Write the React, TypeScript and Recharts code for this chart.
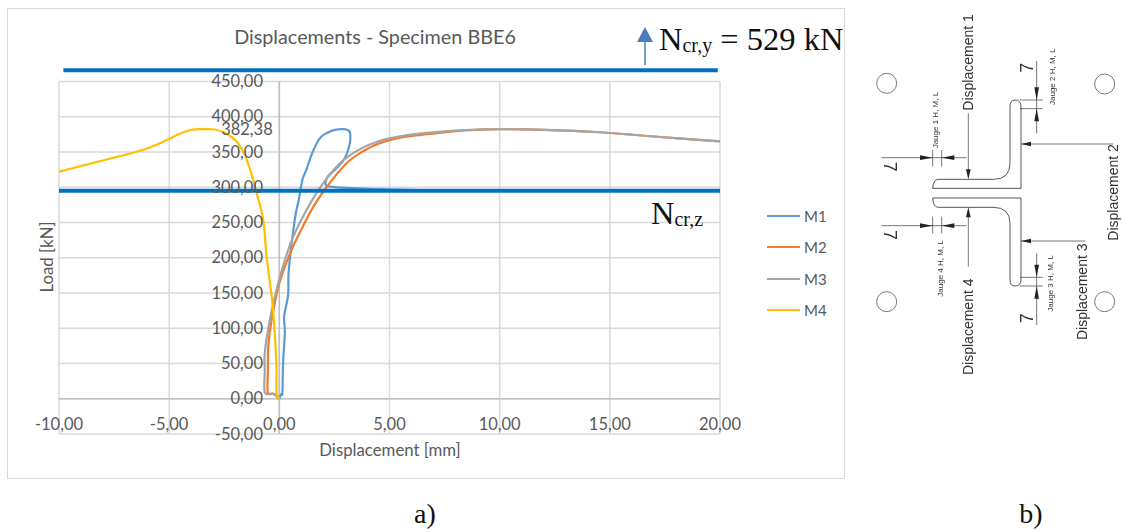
import { CartesianGrid, Legend, Line, LineChart, ReferenceDot, ReferenceLine, XAxis, YAxis } from "recharts"

const xTicks = [-10, -5, 0, 5, 10, 15, 20]
const yTicks = [-50, 0, 50, 100, 150, 200, 250, 300, 350, 400, 450]

const m1X = [0, 0.07, 0.14, 0.17, 0.25, 0.22, 0.4, 0.43, 0.7, 0.88, 1.05, 1.23, 1.46, 1.66, 1.91, 2.37, 2.82, 3.12, 3.21, 3.2, 2.97, 2.6, 2.2, 2.1, 2.3, 3.05, 4.25, 6.8]
const m1Y = [0, 6, 9, 51, 94, 117, 148, 183, 254, 282, 311, 325, 346, 360, 372, 380, 382.4, 381, 377, 362.5, 341, 327, 315, 303.5, 301, 299, 297.5, 295.5]

const m2X = [0, -0.25, -0.52, -0.52, -0.5, -0.35, 0, 0.55, 1.0, 1.5, 2.14, 3.05, 3.8, 4.56, 5.62, 6.83, 8.4, 10, 12, 14.55, 17, 20]
const m2Y = [0, 7, 9, 40, 75, 112, 164, 211, 240, 270, 300, 334, 351, 362.6, 371, 375.5, 380.5, 382.4, 381.5, 378, 372, 365]

const m3X = [0, -0.3, -0.66, -0.66, -0.66, -0.43, -0.05, 0.48, 1.0, 1.84, 2.75, 3.6, 4.56, 5.62, 6.83, 8.4, 10, 12, 14.55, 17, 20]
const m3Y = [0, 7, 9, 40, 65, 112, 164, 218, 254, 299, 334, 353, 366, 373, 377.5, 381, 382.4, 381.5, 378, 372, 365]

const m4X = [0, -0.13, -0.13, -0.2, -0.33, -0.58, -0.73, -1.03, -1.26, -1.57, -1.94, -2.4, -2.93, -3.47, -3.98, -4.52, -5.12, -5.88, -6.64, -10]
const m4Y = [0, 9, 42, 89, 141, 202, 254, 292, 318, 346, 365, 376, 381.9, 382.4, 381.5, 375.9, 367, 356.5, 349, 322]

const zip = (xs: number[], ys: number[]) => xs.map((x, i) => ({ x, y: ys[i] }))
const fmt = (v: number) => v.toFixed(2).replace(".", ",")

const grey = "#595959"
const sans = "Lato, sans-serif"
const serif = "'Liberation Serif', serif"

const series = [
  { name: "M1", color: "#5B9BD5", data: zip(m1X, m1Y) },
  { name: "M2", color: "#ED7D31", data: zip(m2X, m2Y) },
  { name: "M3", color: "#A5A5A5", data: zip(m3X, m3Y) },
  { name: "M4", color: "#FFC000", data: zip(m4X, m4Y) },
]

// Excel-style smoothed line, the curves loop back so monotone can't be used
function smoothCurve(ctx: any) {
  let pts: number[][] = []
  return {
    areaStart() {},
    areaEnd() {},
    lineStart() {
      pts = []
    },
    point(x: number, y: number) {
      pts.push([+x, +y])
    },
    lineEnd() {
      if (!pts.length) return
      ctx.moveTo(pts[0][0], pts[0][1])
      for (let i = 0; i < pts.length - 1; i++) {
        const p0 = pts[Math.max(i - 1, 0)]
        const p1 = pts[i]
        const p2 = pts[i + 1]
        const p3 = pts[Math.min(i + 2, pts.length - 1)]
        ctx.bezierCurveTo(
          p1[0] + (p2[0] - p0[0]) / 6,
          p1[1] + (p2[1] - p0[1]) / 6,
          p2[0] - (p3[0] - p1[0]) / 6,
          p2[1] - (p3[1] - p1[1]) / 6,
          p2[0],
          p2[1],
        )
      }
    },
  }
}

function YTick({ x, y, payload }: any) {
  // value axis crosses at x=0 in the original
  return (
    <text x={x + 212} y={y + 5.5} textAnchor="end" fontSize={16.5} fontFamily={sans} fill={grey}>
      {fmt(payload.value)}
    </text>
  )
}

function XTick({ x, y, payload }: any) {
  return (
    <text x={x} y={y - 12} textAnchor="middle" fontSize={16.5} fontFamily={sans} fill={grey}>
      {fmt(payload.value)}
    </text>
  )
}

function LegendBox({ payload }: any) {
  return (
    <div style={{ fontFamily: sans, fontSize: 15, color: grey }}>
      {(payload || []).map((p: any) => (
        <div key={p.value} style={{ height: 31.5, display: "flex", alignItems: "center" }}>
          <span style={{ width: 33, height: 2, background: p.color, marginRight: 4 }} />
          {p.value}
        </div>
      ))}
    </div>
  )
}

function Specimen() {
  const line = { stroke: "#333", strokeWidth: 2.5, fill: "none" }
  const label = { fontFamily: "'Liberation Sans', sans-serif", fill: "#333" }
  const vText = (x: number, y: number, size: number, s: string) => (
    <text transform={`translate(${x} ${y}) rotate(-90)`} fontSize={size} {...label}>{s}</text>
  )
  const seven = (x: number, y: number, rot: number) => (
    <text transform={`translate(${x} ${y}) rotate(${rot})`} fontSize={54} textAnchor="middle" {...label}>7</text>
  )
  return (
    <svg width={262} height={390} viewBox="0 0 786 1170" style={{ position: "absolute", left: 860, top: 0, filter: "blur(0.5px)" }}>
      {[[80, 250], [734, 252], [80, 905], [734, 905]].map(([cx, cy]) => (
        <circle key={cx + "-" + cy} cx={cx} cy={cy} r={30} fill="none" stroke="#777" strokeWidth={3} />
      ))}
      <path d="M218 565 H483 V320 Q483 300 465 300 Q450 300 450 320 V490 Q450 538 400 538 H235 Q220 538 218 565 Z" {...line} />
      <path d="M218 594 H483 V840 Q483 858 465 858 Q450 858 450 840 V670 Q450 622 400 622 H235 Q220 622 218 594 Z" {...line} />
      <path d="M64 473 H320 M64 677 H320 M325 340 V530 M325 630 V800 M483 432 H760 M483 723 H675" stroke="#333" strokeWidth={2} fill="none" />
      <path d="M480 300 H548 M480 326 H548 M480 832 H548 M480 858 H548 M530 183 V400 M530 760 V975 M218 450 V500 M245 450 V500 M218 650 V700 M245 650 V700" stroke="#333" strokeWidth={2} fill="none" />
      <path d="M218 473 l-38 -7 v14 Z M245 473 l38 -7 v14 Z M218 677 l-38 -7 v14 Z M245 677 l38 -7 v14 Z M530 300 l-7 -38 h14 Z M530 326 l-7 38 h14 Z M530 832 l-7 -38 h14 Z M530 858 l-7 38 h14 Z M325 538 l-7 -30 h14 Z M325 622 l-7 30 h14 Z M483 432 l30 -7 v14 Z M483 723 l30 -7 v14 Z" fill="#222" />
      {vText(339, 332, 42, "Displacement 1")}
      {vText(775, 722, 42, "Displacement 2")}
      {vText(682, 1020, 42, "Displacement 3")}
      {vText(338, 1125, 42, "Displacement 4")}
      {vText(235, 445, 24, "Jauge 1 H, M, L")}
      {vText(585, 315, 24, "Jauge 2 H, M, L")}
      {vText(578, 935, 24, "Jauge 3 H, M, L")}
      {vText(248, 890, 24, "Jauge 4 H, M, L")}
      {seven(518, 203, -90)}
      {seven(518, 955, -90)}
      {seven(72, 500, 90)}
      {seven(72, 705, 90)}
    </svg>
  )
}

export default function App() {
  return (
    <div style={{ position: "absolute", left: 0, top: 0, width: 1122, height: 532, background: "#fff" }}>
      <div style={{ position: "absolute", left: 7, top: 8, width: 836, height: 469, border: "1.5px solid #d9d9d9" }} />
      <LineChart
        width={1122}
        height={532}
        margin={{ top: 81.5, right: 332, bottom: 97, left: 58 }}
        style={{ position: "absolute", left: 0, top: 0 }}
      >
        <CartesianGrid stroke="#d9d9d9" strokeWidth={1.5} horizontalValues={yTicks} verticalValues={xTicks} />
        <XAxis type="number" dataKey="x" domain={[-10, 20]} ticks={xTicks} height={1} tick={<XTick />} tickLine={false} axisLine={false} allowDataOverflow interval={0} />
        <YAxis type="number" dataKey="y" domain={[-50, 450]} ticks={yTicks} width={1} tick={<YTick />} tickLine={false} axisLine={false} interval={0} />
        <ReferenceLine x={0} stroke="#bfbfbf" strokeWidth={1.5} />
        <ReferenceLine y={0} stroke="#bfbfbf" strokeWidth={1.5} />
        <Legend
          layout="vertical"
          verticalAlign="top"
          align="right"
          content={<LegendBox />}
          wrapperStyle={{ position: "absolute", left: 767, top: 200, width: 70 }}
        />
        {series.map((s) => (
          <Line key={s.name} name={s.name} data={s.data} dataKey="y" stroke={s.color} strokeWidth={2.2} dot={false} type={smoothCurve as any} isAnimationActive={false} />
        ))}
        <ReferenceLine y={295} stroke="#0070C0" strokeWidth={4} />
        <ReferenceLine segment={[{ x: -9.8, y: 466 }, { x: 19.9, y: 466 }]} stroke="#0070C0" strokeWidth={4} ifOverflow="visible" />
        <ReferenceDot
          x={-1.47}
          y={382.38}
          r={0}
          fill="none"
          stroke="none"
          label={{ value: "382,38", fontSize: 16.5, fontFamily: sans, fill: grey, position: "center" }}
        />
      </LineChart>
      <svg width={1122} height={532} style={{ position: "absolute", left: 0, top: 0, pointerEvents: "none" }}>
        <text x={375} y={44} textAnchor="middle" fontSize={19.8} fontFamily={sans} fill={grey}>Displacements - Specimen BBE6</text>
        <text transform="translate(53 257) rotate(-90)" textAnchor="middle" fontSize={16.8} fontFamily={sans} fill={grey}>Load [kN]</text>
        <text x={390} y={456} textAnchor="middle" fontSize={16.8} fontFamily={sans} fill={grey}>Displacement [mm]</text>
        <path d="M645 65 V40" stroke="#4A7EBB" strokeWidth={1.5} />
        <path d="M645 27 l8 15 h-16 Z" fill="#4A7EBB" />
        <text x={659} y={50} fontSize={32.5} fontFamily={serif} fill="#111">
          N<tspan fontSize={20} dy={2}>cr,y</tspan><tspan dy={-2}> = 529 kN</tspan>
        </text>
        <text x={651} y={224} fontSize={32.5} fontFamily={serif} fill="#111">
          N<tspan fontSize={20} dy={2}>cr,z</tspan>
        </text>
        <text x={425} y={523} textAnchor="middle" fontSize={28} fontFamily={serif} fill="#111">a)</text>
        <text x={1031} y={523} textAnchor="middle" fontSize={28} fontFamily={serif} fill="#111">b)</text>
      </svg>
      <Specimen />
    </div>
  )
}
